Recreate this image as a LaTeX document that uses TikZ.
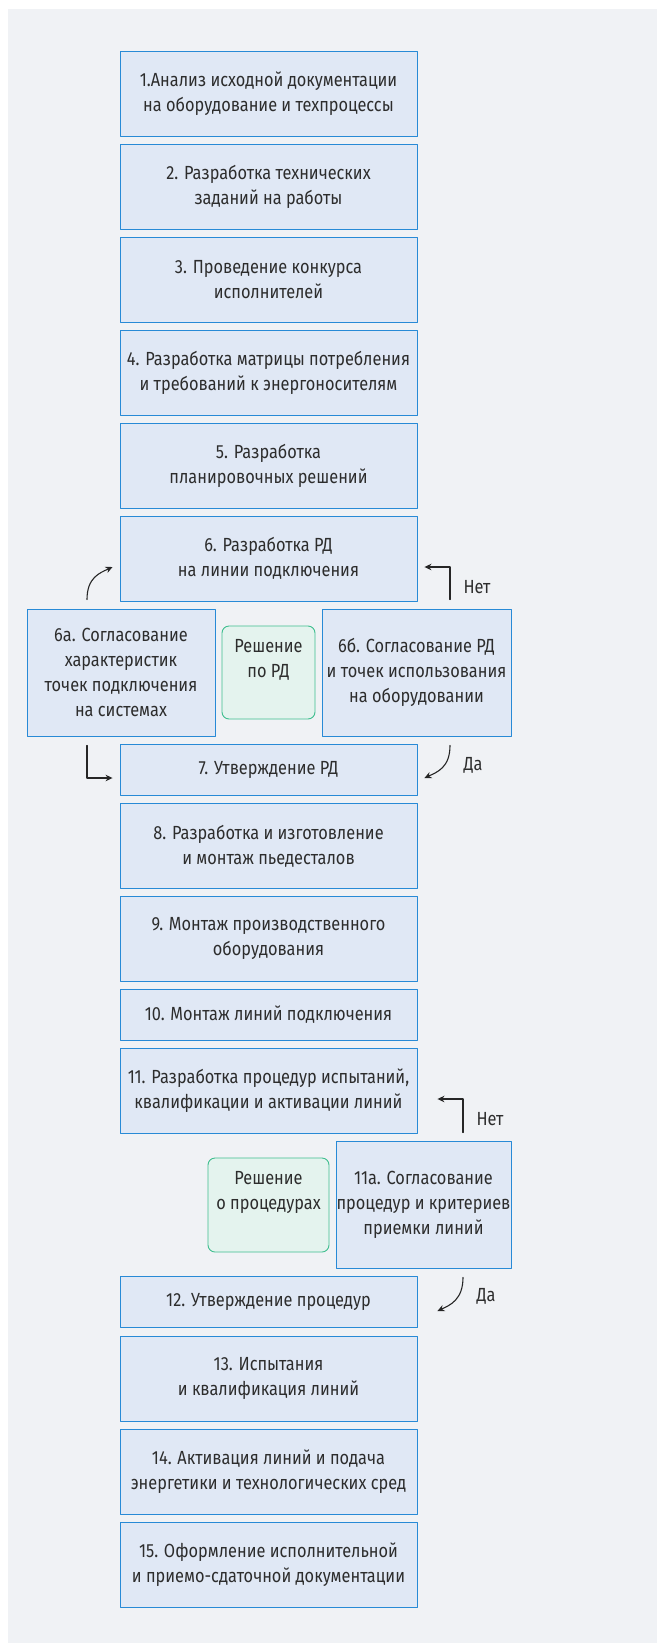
\documentclass[tikz,border=0pt]{standalone}
\usepackage{fontspec}
\setmainfont{Fira Sans}[FakeStretch=0.86]
\usepackage{xcolor}
\usepackage{tikz}
\usetikzlibrary{arrows.meta,calc,positioning}
\definecolor{panelbg}{RGB}{240,242,245}
\definecolor{boxfill}{RGB}{224,232,245}
\definecolor{boxline}{RGB}{40,138,214}
\definecolor{greenfill}{RGB}{228,243,238}
\definecolor{greenline}{RGB}{62,190,142}
\definecolor{txt}{RGB}{45,45,45}
\tikzset{
  stepbox/.style={draw=boxline, fill=boxfill, line width=0.9pt, minimum width=297pt,
    minimum height=85pt, align=center, text=txt, inner sep=0pt,
    font=\fontsize{19}{25}\selectfont},
  lowbox/.style={stepbox, minimum height=51pt},
  sidebox/.style={stepbox, minimum height=127pt},
  choice/.style={draw=greenline, fill=greenfill, line width=0.9pt, rounded corners=7pt,
    minimum height=93pt, align=center, text=txt, inner sep=0pt,
    font=\fontsize{19}{25}\selectfont},
  arr/.style={-{Stealth[length=7pt,width=6.5pt]}, line width=1.1pt, black!85},
  lbl/.style={text=txt, inner sep=0pt, font=\fontsize{19}{25}\selectfont},
  every picture/.style={line cap=round, line join=round}
}

\begin{document}
\begin{tikzpicture}[x=1pt, y=-1pt]
  \useasboundingbox (0,0) rectangle (657,1643);
  \fill[white] (0,0) rectangle (657,1643);
  \fill[panelbg] (8,9) rectangle (657,1643);

  \node[stepbox] (s1) at (268.5,93.5) {1.Анализ исходной документации\\на оборудование и техпроцессы};
  \node[stepbox] (s2) at (268.5,186.5) {2. Разработка технических\\заданий на работы};
  \node[stepbox] (s3) at (268.5,279.5) {3. Проведение конкурса\\исполнителей};
  \node[stepbox] (s4) at (268.5,372.5) {4. Разработка матрицы потребления\\и требований к энергоносителям};
  \node[stepbox] (s5) at (268.5,465.5) {5. Разработка\\планировочных решений};
  \node[stepbox] (s6) at (268.5,558.5) {6. Разработка РД\\на линии подключения};

  \node[sidebox, minimum width=188pt] (s6a) at (121,672.5) {6а. Согласование\\характеристик\\точек подключения\\на системах};
  \node[choice, minimum width=93pt] (d6) at (268.5,672.5) {Решение\\по РД\\[4pt]};
  \node[sidebox, minimum width=189pt] (s6b) at (416.5,672.5) {6б. Согласование РД\\и точек использования\\на оборудовании};

  \node[lowbox] (s7) at (268.5,769.5) {7. Утверждение РД};
  \node[stepbox] (s8) at (268.5,846) {8. Разработка и изготовление\\и монтаж пьедесталов};
  \node[stepbox] (s9) at (268.5,938.5) {9. Монтаж производственного\\оборудования};
  \node[lowbox] (s10) at (268.5,1015) {10. Монтаж линий подключения};
  \node[stepbox] (s11) at (268.5,1091) {11. Разработка процедур испытаний,\\квалификации и активации линий};

  \node[choice, minimum width=121pt, minimum height=94pt] (d11) at (268.5,1205) {Решение\\о процедурах\\[4pt]};
  \node[sidebox, minimum width=175pt] (s11a) at (423.5,1204.5) {11а. Согласование\\процедур и критериев\\приемки линий};

  \node[lowbox] (s12) at (268.5,1302) {12. Утверждение процедур};
  \node[stepbox] (s13) at (268.5,1378.5) {13. Испытания\\и квалификация линий};
  \node[stepbox] (s14) at (268.5,1471.5) {14. Активация линий и подача\\энергетики и технологических сред};
  \node[stepbox] (s15) at (268.5,1564.5) {15. Оформление исполнительной\\и приемо-сдаточной документации};

  % loop around step 6
  \draw[arr] ($(s6a.north)+(-34,-9)$) .. controls +(0,-22) and +(-13,6) .. ($(s6.west)+(-7,8.5)$);
  \draw[arr] ($(s6b.north)+(33.5,-9)$) |- ($(s6.east)+(7,8.5)$);
  \draw[arr] ($(s6a.south)+(-34,9)$) |- ($(s7.west)+(-7,8.5)$);
  \draw[arr] ($(s6b.south)+(33.5,9)$) .. controls +(0,22) and +(13,-6) .. ($(s7.east)+(7,8.5)$);
  \node[lbl] (no6) at (477,587) {Нет};
  \node[lbl] (yes6) at (473,765) {Да};

  % loop around step 11
  \draw[arr] ($(s11a.north)+(39.5,-8)$) |- ($(s11.east)+(20,8)$);
  \draw[arr] ($(s11a.south)+(39.5,9)$) .. controls +(0,22) and +(13,-6) .. ($(s12.east)+(20,9)$);
  \node[lbl] (no11) at (490,1119) {Нет};
  \node[lbl] (yes11) at (486,1296) {Да};
\end{tikzpicture}
\end{document}
